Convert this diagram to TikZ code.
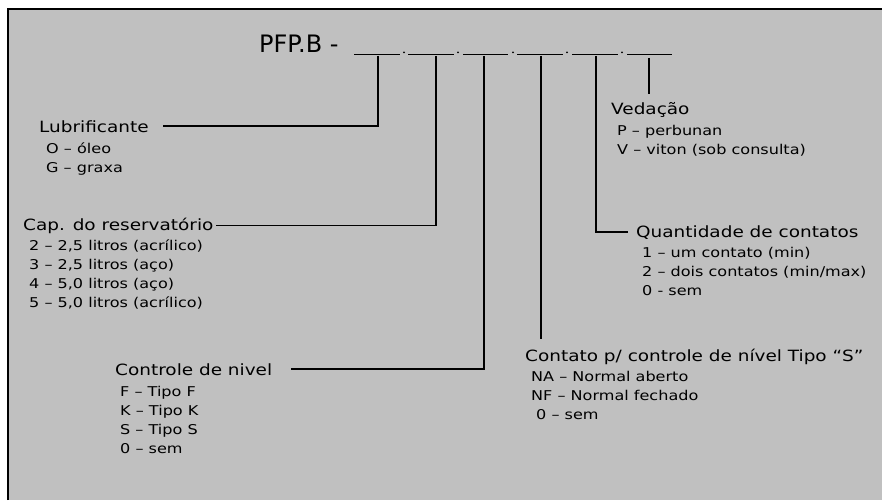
\documentclass[tikz,border=0pt]{standalone}
\usepackage{fontspec}
\setmainfont{DejaVu Sans}[FakeStretch=1.19]
\newfontfamily\titlefont{DejaVu Sans}
\usetikzlibrary{calc}
\definecolor{fundo}{RGB}{192,192,192}
\tikzset{
  rotulo/.style={anchor=base west,inner sep=0pt,font=\fontsize{15.5}{18}\selectfont},
  item/.style={anchor=base west,inner sep=0pt,font=\fontsize{13.5}{16}\selectfont},
  liga/.style={line width=1.8pt},
}
\begin{document}
\begin{tikzpicture}[x=1pt,y=-1pt]
\useasboundingbox (0,0) rectangle (882,500);
\fill[fundo] (8,9) rectangle (882,500);
\draw[line width=2.5pt] (8,500) -- (8,9) -- (882,9);
% codigo
\node[anchor=base west,inner sep=0pt,font=\titlefont\fontsize{24}{28}\selectfont] (codigo) at (259,52.7) {PFP.B -};
\foreach \a/\b in {354/400,408/454,463/508,517/563,572/618,627/672}
  \draw[line width=1.3pt] (\a,54.3) -- (\b,54.3);
\foreach \d in {404,458,513,567,622}
  \fill (\d,52.3) circle (1pt);
\coordinate (s1) at (378,56);
\coordinate (s2) at (436,56);
\coordinate (s3) at (484,56);
\coordinate (s4) at (541,56);
\coordinate (s5) at (596,56);
\coordinate (s6) at (649,58);
% rotulos
\node[rotulo] (lub) at (39,132) {Lubrificante};
\node[rotulo] (cap) at (23,230) {Cap. do reservatório};
\node[rotulo] (ctrl) at (115,375) {Controle de nivel};
\node[rotulo] (cont) at (525,361) {Contato p/ controle de nível Tipo “S”};
\node[rotulo] (qtd) at (636,237) {Quantidade de contatos};
\node[rotulo] (ved) at (611,114) {Vedação};
% opcoes
\foreach \t [count=\i] in {O – óleo, G – graxa}
  \node[item] (lub\i) at (46,{153+19.3*(\i-1)}) {\t};
\foreach \t [count=\i] in {{2 – 2,5 litros (acrílico)}, {3 – 2,5 litros (aço)}, {4 – 5,0 litros (aço)}, {5 – 5,0 litros (acrílico)}}
  \node[item] (cap\i) at (29,{250+19.3*(\i-1)}) {\t};
\foreach \t [count=\i] in {F – Tipo F, K – Tipo K, S – Tipo S, 0 – sem}
  \node[item] (ctrl\i) at (120,{396+19.3*(\i-1)}) {\t};
\foreach \t [count=\i] in {NA – Normal aberto, NF – Normal fechado, \hspace*{5pt}0 – sem}
  \node[item] (cont\i) at (531,{381+19.3*(\i-1)}) {\t};
\foreach \t [count=\i] in {1 – um contato (min), 2 – dois contatos (min/max), 0 - sem}
  \node[item] (qtd\i) at (642,{257+19.3*(\i-1)}) {\t};
\foreach \t [count=\i] in {P – perbunan, V – viton (sob consulta)}
  \node[item] (ved\i) at (617,{135+19.3*(\i-1)}) {\t};
% ligacoes
\draw[liga] (s1) |- ([xshift=14pt]lub.east);
\draw[liga] (s2) |- ([xshift=2pt]cap.east);
\draw[liga] (s3) |- ([xshift=19pt]ctrl.east);
\draw[liga] (s4) -- ($(s4 |- cont.north)+(0,-9)$);
\draw[liga] (s5) |- ([xshift=-8pt]qtd.west);
\draw[liga] (s6) -- ($(s6 |- ved.north)+(0,-8)$);
\end{tikzpicture}
\end{document}
